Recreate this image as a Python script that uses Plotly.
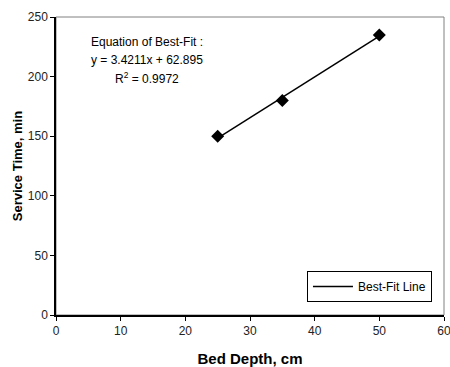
import plotly.graph_objects as go

bed_depth = [25, 35, 50]
service_time = [150, 180, 235]
slope = 3.4211
intercept = 62.895
fit_x = [25, 50]
fit_y = [slope * x + intercept for x in fit_x]

fig = go.Figure()
fig.add_trace(go.Scatter(x=fit_x, y=fit_y, mode="lines", name="Best-Fit Line",
                         line=dict(color="black", width=1.5), showlegend=True))
fig.add_trace(go.Scatter(x=bed_depth, y=service_time, mode="markers",
                         marker=dict(symbol="diamond", size=10, color="black"),
                         showlegend=False))

font = "Liberation Sans, Arial, sans-serif"
texts = ["Equation of Best-Fit :", "y = 3.4211x + 62.895", "R<sup>2</sup> = 0.9972"]
ys = [229, 214, 199]
for t, yy in zip(texts, ys):
    fig.add_annotation(x=14.0, y=yy, text=t, showarrow=False, xref="x", yref="y",
                       font=dict(family=font, size=12, color="black"))

fig.add_annotation(x=-0.1, y=0.5, xref="paper", yref="paper", text="<b>Service Time, min</b>",
                   textangle=-90, showarrow=False, xanchor="center", yanchor="middle",
                   font=dict(family=font, size=13, color="black"))

fig.add_shape(type="rect", xref="paper", yref="paper", x0=0, y0=0, x1=1, y1=1,
              line=dict(color="#808080", width=1), layer="below")

fig.update_layout(
    width=450, height=367,
    margin=dict(l=56, r=6, t=17, b=52, autoexpand=False),
    paper_bgcolor="white", plot_bgcolor="white",
    font=dict(family=font, size=12, color="black"),
    legend=dict(x=0.969, y=0.044, xanchor="right", yanchor="bottom",
                bordercolor="black", borderwidth=1, bgcolor="white",
                font=dict(size=12), itemwidth=40),
    xaxis=dict(range=[0, 60], dtick=10, showgrid=False, zeroline=False,
               showline=True, linecolor="black", linewidth=1.5,
               ticks="outside", ticklen=4, tickcolor="black",
               ticklabeloverflow="allow", automargin=False,
               tickfont=dict(size=12, color="#222"),
               title=dict(text="<b>Bed Depth, cm</b>", font=dict(size=15), standoff=16)),
    yaxis=dict(range=[0, 250], dtick=50, showgrid=False, zeroline=False,
               showline=True, linecolor="black", linewidth=1.5,
               ticks="outside", ticklen=4, tickcolor="black",
               automargin=False,
               tickfont=dict(size=12, color="#222")),
)

fig.write_html("out.html")
